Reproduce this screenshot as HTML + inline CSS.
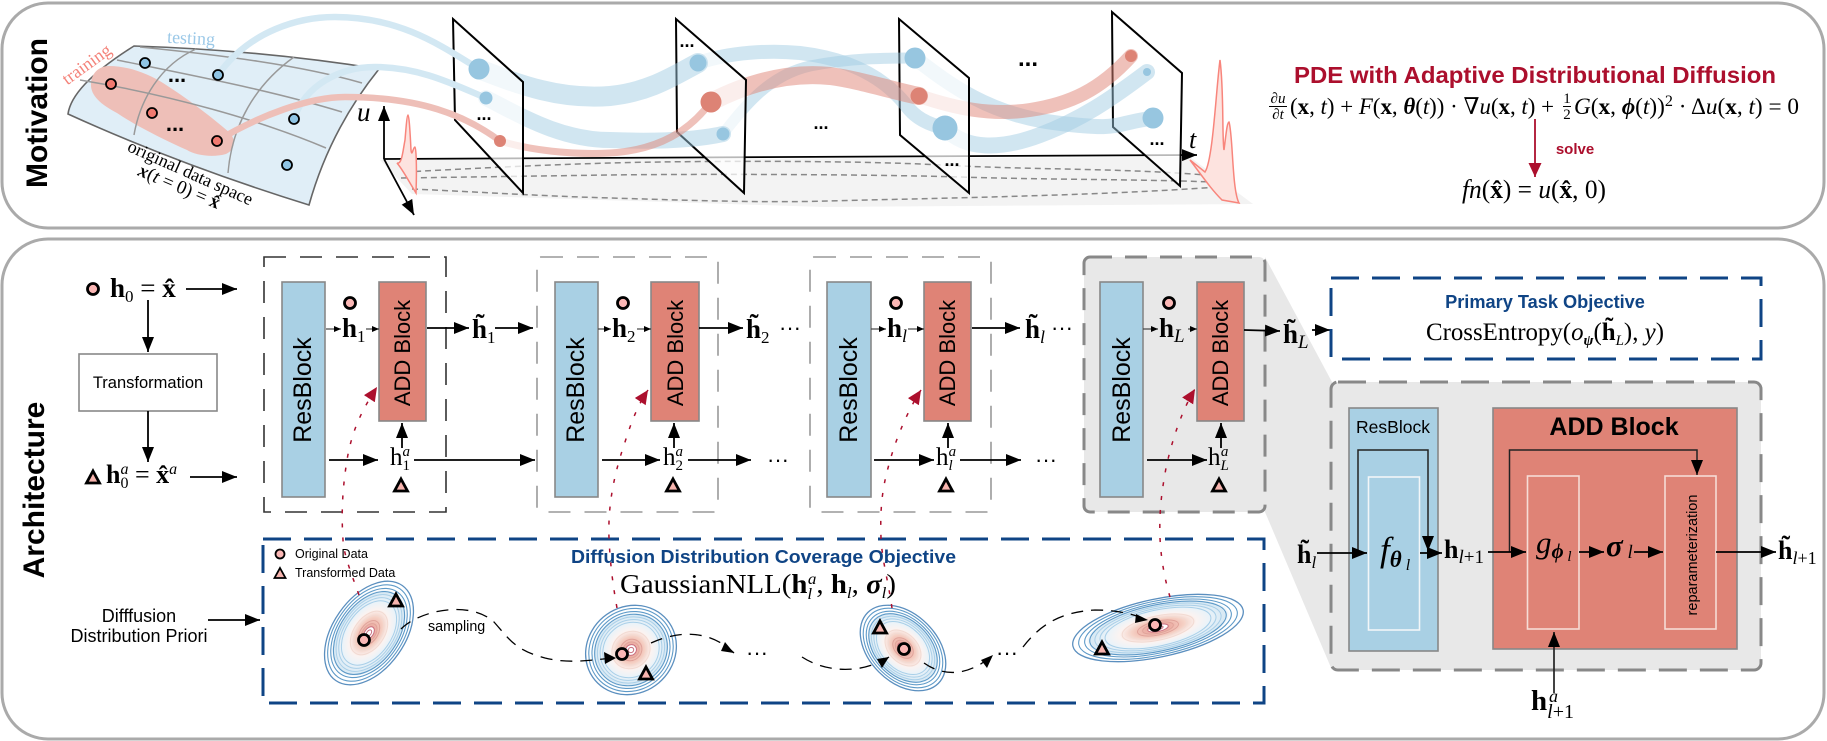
<!DOCTYPE html>
<html><head><meta charset="utf-8"><style>
html,body{margin:0;padding:0;background:#fff}
svg{display:block}
.m{font-family:"Liberation Serif","DejaVu Serif",serif}
.s{font-family:"Liberation Sans",sans-serif}
</style></head><body>
<svg xmlns="http://www.w3.org/2000/svg" width="1827" height="741" viewBox="0 0 1827 741">
<defs>
<marker id="a" markerUnits="userSpaceOnUse" markerWidth="16" markerHeight="13" refX="15" refY="6" orient="auto"><path d="M0 0L15 6L0 12Z" fill="#000"/></marker>
<marker id="b" markerUnits="userSpaceOnUse" markerWidth="8" markerHeight="7" refX="7" refY="3" orient="auto"><path d="M0 0L7 3L0 6Z" fill="#000"/></marker>
<marker id="r" markerUnits="userSpaceOnUse" markerWidth="16" markerHeight="14" refX="14" refY="6.5" orient="auto"><path d="M0 0L14 6.500L0 13Z" fill="#ac0f2d"/></marker>
<g id="c"><circle r="5.500" fill="#fbb7b5" stroke="#000" stroke-width="2.800"/></g>
<g id="t"><path d="M0 -6L6.500 6L-6.500 6Z" fill="#f7b4ae" stroke="#000" stroke-width="2.800"/></g>
<radialGradient id="gg"><stop offset="0" stop-color="#f6e6e6"/><stop offset=".12" stop-color="#eba99f"/><stop offset=".3" stop-color="#f5d0c4"/><stop offset=".45" stop-color="#fbf3f1"/><stop offset=".6" stop-color="#eaf3f9"/><stop offset=".78" stop-color="#d8e9f4"/><stop offset=".84" stop-color="#ffffff"/><stop offset="1" stop-color="#ffffff"/></radialGradient>
<g id="g" fill="none">
<circle r="100" fill="url(#gg)" stroke="#5b8fbf" stroke-width="1.300" vector-effect="non-scaling-stroke"/>
<g stroke="#5e9ac8" stroke-width="1.100"><circle r="93" vector-effect="non-scaling-stroke"/><circle r="86" vector-effect="non-scaling-stroke"/><circle r="80" vector-effect="non-scaling-stroke"/></g>
<g stroke="#a9cfe8" stroke-width="1"><circle r="74" vector-effect="non-scaling-stroke"/><circle r="68" vector-effect="non-scaling-stroke"/><circle r="62" vector-effect="non-scaling-stroke"/></g>
<g stroke="#f2dad2" stroke-width="1"><circle r="42" vector-effect="non-scaling-stroke"/><circle r="34" vector-effect="non-scaling-stroke"/></g>
<g stroke="#e0a39a" stroke-width="1"><circle r="24" vector-effect="non-scaling-stroke"/><circle r="18" vector-effect="non-scaling-stroke"/></g>
<g stroke="#c96f80" stroke-width="1"><circle r="12" fill="#fff" vector-effect="non-scaling-stroke"/><circle r="6" vector-effect="non-scaling-stroke"/></g>
</g>
</defs>

<rect x="2" y="3" width="1822" height="225" rx="46" fill="#fff" stroke="#aaa" stroke-width="3"/>
<rect x="2" y="239" width="1822" height="500" rx="46" fill="#fff" stroke="#aaa" stroke-width="3"/>

<text class="s" transform="translate(47,113) rotate(-90)" text-anchor="middle" font-weight="bold" font-size="30">Motivation</text>
<text class="s" transform="translate(44,490) rotate(-90)" text-anchor="middle" font-weight="bold" font-size="30">Architecture</text>

<!-- floor -->
<polygon points="380,160 1190,157 1253,204 824,207 412,194" fill="#f3f3f3"/>
<g fill="none" stroke="#888" stroke-width="1.500" stroke-dasharray="6 4">
<path d="M405 172C480 168 540 165 610 163S850 160 941 165S1120 168 1205 175"/>
<path d="M401 178C470 177 540 176 610 175S860 174 960 177S1130 179 1213 182"/>
<path d="M412 189C480 192 540 196 610 198S760 203 828 201S1100 196 1217 187"/>
</g>
<!-- axes -->
<g fill="none" stroke="#000" stroke-width="1.800">
<path d="M384 159V106" marker-end="url(#a)"/>
<path d="M384 159L1197 155" marker-end="url(#a)"/>
<path d="M384 159L414 215" marker-end="url(#a)"/>
</g>
<text class="m" x="357" y="121" font-size="27" font-style="italic">u</text>
<text class="m" x="1189" y="148" font-size="26" font-style="italic">t</text>
<!-- distributions -->
<path d="M397 163C402 165 403 150 405 140C406 128 407 115 408 115C409 115 410 130 411 150C412 158 413 147 415 147C416 147 417 165 416 193C408 180 403 170 397 163Z" fill="#fde3df" stroke="#f8857c" stroke-width="1.500"/>
<path d="M1190 160L1205 172C1213 160 1216 90 1220 60C1224 90 1222 140 1224 150C1226 135 1227 122 1229 122C1233 135 1232 190 1239 203L1222 200C1212 190 1205 180 1190 160Z" fill="#fde3df" stroke="#f8857c" stroke-width="1.500"/>

<!-- manifold -->
<path d="M134 46Q260 50 379 69Q330 130 309 205Q180 165 68 114Q72 85 134 46Z" fill="#e0eef7" stroke="#666" stroke-width="1.600"/>
<path d="M91 83C92 72 100 66 109 66C130 66 150 75 163 83C190 100 215 120 230 133C236 140 235 150 226 154C212 158 195 155 187 150C160 138 135 125 117 113C100 104 90 95 91 83Z" fill="#eebfb8"/>
<g fill="none" stroke="#999" stroke-width="1.500">
<path d="M140 47C220 55 300 65 362 83"/>
<path d="M117 60C190 75 270 90 342 112"/>
<path d="M80 80C170 95 260 120 326 148"/>
<path d="M196 49C160 65 140 100 134 135"/>
<path d="M294 57C255 85 232 125 228 173"/>
</g>
<text class="s" x="177" y="82" font-size="22" font-weight="bold" text-anchor="middle">...</text>
<text class="s" x="175" y="131" font-size="22" font-weight="bold" text-anchor="middle">...</text>
<text class="m" transform="translate(90,69) rotate(-36)" text-anchor="middle" font-size="18" fill="#f4837a">training</text>
<text class="m" x="191" y="44" text-anchor="middle" font-size="18" fill="#9cc9e8" transform="rotate(3 191 40)">testing</text>
<text class="m" transform="translate(188,178) rotate(24)" text-anchor="middle" font-size="18">original data space</text>
<text class="m" transform="translate(177,192) rotate(23)" text-anchor="middle" font-size="19"><tspan font-weight="bold" font-style="italic">x</tspan>(<tspan font-style="italic">t</tspan> = 0) = <tspan font-weight="bold">x̂</tspan></text>

<!-- flows, planes : right to left -->
<g fill="none" stroke-linecap="round">
<polygon points="1112,12 1182,73 1180,186 1113,127" fill="#fff" fill-opacity=".72" stroke="#000" stroke-width="2"/>
<path d="M945 128C965 150 1000 150 1040 135S1110 100 1147 72" stroke="#9ecae1" stroke-opacity=".48" stroke-width="16"/>
<path d="M915 58C950 85 990 115 1057 123S1110 124 1153 118" stroke="#9ecae1" stroke-opacity=".48" stroke-width="15"/>
<path d="M919 96C955 108 990 116 1030 110S1100 90 1131 56" stroke="#df8376" stroke-opacity=".5" stroke-width="14"/>
<polygon points="899,19 969,78 969,193 900,135" fill="#fff" fill-opacity=".72" stroke="#000" stroke-width="2"/>
<path d="M698 63C730 52 770 50 800 53C860 60 890 85 906 105C915 118 930 125 945 128" stroke="#9ecae1" stroke-opacity=".48" stroke-width="14"/>
<path d="M723 134C745 105 770 75 810 66C850 58 885 58 915 58" stroke="#9ecae1" stroke-opacity=".48" stroke-width="11"/>
<path d="M711 102C750 82 790 72 830 76C860 80 890 90 919 96" stroke="#df8376" stroke-opacity=".5" stroke-width="18"/>
<polygon points="676,19 746,80 744,193 677,132" fill="#fff" fill-opacity=".72" stroke="#000" stroke-width="2"/>
<path d="M479 69C520 85 560 100 610 96C650 92 675 75 698 63" stroke="#9ecae1" stroke-opacity=".48" stroke-width="20"/>
<path d="M486 98C520 115 560 140 610 140C660 142 695 140 723 134" stroke="#9ecae1" stroke-opacity=".48" stroke-width="16"/>
<path d="M500 141C530 150 570 155 610 153C660 150 690 130 711 102" stroke="#df8376" stroke-opacity=".5" stroke-width="7"/>
<polygon points="453,19 523,82 523,193 455,120" fill="#fff" fill-opacity=".72" stroke="#000" stroke-width="2"/>
<path d="M218 75C250 30 300 17 335 17C400 17 440 45 479 69" stroke="#d3e8f3" stroke-width="6.500"/>
<path d="M294 119C305 85 340 67 375 67C420 67 455 85 486 98" stroke="#d3e8f3" stroke-width="6.500"/>
<path d="M217 141C260 115 310 97 345 97C420 97 465 115 500 141" stroke="#eebfb8" stroke-width="6.500"/>
</g>
<g fill="#97c6e0">
<circle cx="479" cy="69" r="10.500"/><circle cx="486" cy="98" r="6.500"/>
<circle cx="698" cy="63" r="8.500"/><circle cx="723" cy="134" r="6.500"/>
<circle cx="915" cy="58" r="10.500"/><circle cx="945" cy="128" r="12.500"/>
<circle cx="1147" cy="72" r="4"/><circle cx="1153" cy="118" r="10.500"/>
</g>
<g fill="#dd8375">
<circle cx="500" cy="141" r="6"/><circle cx="711" cy="102" r="10.500"/>
<circle cx="919" cy="96" r="8.500"/><circle cx="1131" cy="56" r="6"/>
</g>
<g fill="#8fc4e4" stroke="#000" stroke-width="1.800"><circle cx="145" cy="63" r="5"/><circle cx="218" cy="75" r="5"/><circle cx="294" cy="119" r="5"/><circle cx="287" cy="165" r="5"/></g>
<g fill="#f07a70" stroke="#000" stroke-width="1.800"><circle cx="111" cy="84" r="5"/><circle cx="152" cy="113" r="5"/><circle cx="217" cy="141" r="5"/></g>
<g class="s" font-size="18" font-weight="bold" text-anchor="middle">
<text x="484" y="120">...</text><text x="687" y="47">...</text><text x="821" y="129">...</text><text x="952" y="166">...</text><text x="1028" y="66" font-size="24">...</text><text x="1157" y="145">...</text>
</g>

<!-- PDE -->
<text class="s" x="1294" y="83" font-size="23.500" font-weight="bold" fill="#ac0f2d" textLength="482" lengthAdjust="spacingAndGlyphs">PDE with Adaptive Distributional Diffusion</text>
<g class="m" font-size="15" text-anchor="middle"><text x="1278" y="103"><tspan font-style="italic">∂u</tspan></text><text x="1278" y="119"><tspan font-style="italic">∂t</tspan></text><text x="1567" y="103">1</text><text x="1567" y="119">2</text></g>
<path d="M1269 106.500H1287M1563 106.500H1571" stroke="#000" stroke-width="1"/>
<text class="m" x="1290" y="114" font-size="23" textLength="264" lengthAdjust="spacingAndGlyphs">(<tspan font-weight="bold">x</tspan>, <tspan font-style="italic">t</tspan>) + <tspan font-style="italic">F</tspan>(<tspan font-weight="bold">x</tspan>, <tspan font-weight="bold" font-style="italic">θ</tspan>(<tspan font-style="italic">t</tspan>)) · ∇<tspan font-style="italic">u</tspan>(<tspan font-weight="bold">x</tspan>, <tspan font-style="italic">t</tspan>) +</text>
<text class="m" x="1574" y="114" font-size="23" textLength="225" lengthAdjust="spacingAndGlyphs"><tspan font-style="italic">G</tspan>(<tspan font-weight="bold">x</tspan>, <tspan font-weight="bold" font-style="italic">ϕ</tspan>(<tspan font-style="italic">t</tspan>))<tspan dy="-8" font-size="16">2</tspan><tspan dy="8"> · Δ</tspan><tspan font-style="italic">u</tspan>(<tspan font-weight="bold">x</tspan>, <tspan font-style="italic">t</tspan>) = 0</text>
<path d="M1535 119V177" stroke="#ac0f2d" stroke-width="1.800" fill="none" marker-end="url(#r)"/>
<text class="s" x="1575" y="154" font-size="15" font-weight="bold" fill="#ac0f2d" text-anchor="middle">solve</text>
<text class="m" x="1462" y="198" font-size="26" textLength="144" lengthAdjust="spacingAndGlyphs"><tspan font-style="italic">fn</tspan>(<tspan font-weight="bold">x̂</tspan>) = <tspan font-style="italic">u</tspan>(<tspan font-weight="bold">x̂</tspan>, 0)</text>

<!-- wedge + grey group -->
<polygon points="1265,257 1332,382 1332,670 1265,512" fill="#e8e8e8"/>
<rect x="1084" y="257" width="181" height="255" rx="6" fill="#e8e8e8" stroke="#888" stroke-width="3" stroke-dasharray="22 13"/>
<rect x="1331" y="382" width="430" height="288" rx="7" fill="#e8e8e8" stroke="#888" stroke-width="3" stroke-dasharray="28 13"/>

<!-- groups -->
<rect x="264" y="257" width="182" height="255" fill="none" stroke="#333" stroke-width="1.600" stroke-dasharray="22 14"/>
<rect x="537" y="257" width="181" height="255" rx="4" fill="none" stroke="#999" stroke-width="1.600" stroke-dasharray="22 14"/>
<rect x="810" y="257" width="181" height="255" rx="4" fill="none" stroke="#999" stroke-width="1.600" stroke-dasharray="22 14"/>

<!-- left inputs -->
<use href="#c" x="93" y="289"/>
<text class="m" x="110" y="297" font-size="27"><tspan font-weight="bold">h</tspan><tspan dy="5" font-size="17">0</tspan><tspan dy="-5"> = </tspan><tspan font-weight="bold">x̂</tspan></text>
<use href="#t" x="93" y="477"/>
<text class="m" x="106" y="483" font-size="26"><tspan font-weight="bold">h</tspan><tspan dy="5" font-size="16">0</tspan><tspan dy="-14" dx="-8" font-size="16" font-style="italic">a</tspan><tspan dy="9"> = </tspan><tspan font-weight="bold">x̂</tspan><tspan dy="-9" font-size="16" font-style="italic">a</tspan></text>
<rect x="79" y="354" width="138" height="57" fill="#fff" stroke="#888" stroke-width="1.600"/>
<text class="s" x="148" y="388" font-size="16.500" text-anchor="middle">Transformation</text>
<g fill="none" stroke="#000" stroke-width="1.800" marker-end="url(#a)">
<path d="M186 289H237" marker-end="url(#a)"/>
<path d="M148 300V352" marker-end="url(#a)"/>
<path d="M148 411V462" marker-end="url(#a)"/>
<path d="M190 477H237" marker-end="url(#a)"/>
</g>

<!-- blocks -->
<g fill="#a9d0e4" stroke="#888" stroke-width="1.600">
<rect x="282" y="282" width="43" height="215"/><rect x="555" y="282" width="43" height="215"/><rect x="827" y="282" width="44" height="215"/><rect x="1100" y="282" width="43" height="215"/>
</g>
<g fill="#df8376" stroke="#888" stroke-width="1.600">
<rect x="379" y="282" width="47" height="139"/><rect x="651" y="282" width="48" height="139"/><rect x="924" y="282" width="47" height="139"/><rect x="1197" y="282" width="47" height="139"/>
</g>
<g class="s" font-size="25" text-anchor="middle">
<text transform="translate(311,390) rotate(-90)">ResBlock</text><text transform="translate(584,390) rotate(-90)">ResBlock</text><text transform="translate(857,390) rotate(-90)">ResBlock</text><text transform="translate(1130,390) rotate(-90)">ResBlock</text>
</g>
<g class="s" font-size="22" text-anchor="middle">
<text transform="translate(410,353) rotate(-90)">ADD Block</text><text transform="translate(683,353) rotate(-90)">ADD Block</text><text transform="translate(955,353) rotate(-90)">ADD Block</text><text transform="translate(1228,353) rotate(-90)">ADD Block</text>
</g>

<!-- markers -->
<use href="#c" x="350" y="303"/><use href="#c" x="623" y="303"/><use href="#c" x="896" y="303"/><use href="#c" x="1169" y="303"/>
<use href="#t" x="401" y="485"/><use href="#t" x="673" y="485"/><use href="#t" x="946" y="485"/><use href="#t" x="1219" y="485"/>

<!-- thin arrows -->
<g fill="none" stroke="#444" stroke-width="1.200">
<path d="M326 329H341" marker-end="url(#b)"/><path d="M366 329H379" marker-end="url(#b)"/>
<path d="M598 329H611" marker-end="url(#b)"/><path d="M637 329H651" marker-end="url(#b)"/>
<path d="M871 329H886" marker-end="url(#b)"/><path d="M908 329H924" marker-end="url(#b)"/>
<path d="M1143 329H1158" marker-end="url(#b)"/><path d="M1188 329H1197" marker-end="url(#b)"/>
</g>
<g fill="none" stroke="#000" stroke-width="1.800">
<path d="M427 328H469" marker-end="url(#a)"/><path d="M495 328H533" marker-end="url(#a)"/>
<path d="M699 328H743" marker-end="url(#a)"/>
<path d="M972 328H1020" marker-end="url(#a)"/>
<path d="M1244 330L1280 331" marker-end="url(#a)"/><path d="M1312 330H1330" marker-end="url(#a)"/>
<path d="M329 460H378" marker-end="url(#a)"/><path d="M414 460H535" marker-end="url(#a)"/>
<path d="M602 460H660" marker-end="url(#a)"/><path d="M688 460H751" marker-end="url(#a)"/>
<path d="M874 460H934" marker-end="url(#a)"/><path d="M960 460H1021" marker-end="url(#a)"/>
<path d="M1147 460H1207" marker-end="url(#a)"/>
<path d="M402 448V423" marker-end="url(#a)"/><path d="M674 448V423" marker-end="url(#a)"/><path d="M948 448V423" marker-end="url(#a)"/><path d="M1221 448V423" marker-end="url(#a)"/>
</g>

<!-- labels h -->
<g class="m" font-size="27">
<text x="342" y="337"><tspan font-weight="bold">h</tspan><tspan dy="5" font-size="17">1</tspan></text>
<text x="612" y="337"><tspan font-weight="bold">h</tspan><tspan dy="5" font-size="17">2</tspan></text>
<text x="887" y="337"><tspan font-weight="bold">h</tspan><tspan dy="5" font-size="18" font-style="italic">l</tspan></text>
<text x="1159" y="337"><tspan font-weight="bold">h</tspan><tspan dy="5" font-size="19" font-style="italic">L</tspan></text>
<text x="472" y="338"><tspan font-weight="bold">h̃</tspan><tspan dy="5" font-size="17">1</tspan></text>
<text x="746" y="338"><tspan font-weight="bold">h̃</tspan><tspan dy="5" font-size="17">2</tspan></text>
<text x="1025" y="338"><tspan font-weight="bold">h̃</tspan><tspan dy="5" font-size="18" font-style="italic">l</tspan></text>
<text x="1283" y="343"><tspan font-weight="bold">h̃</tspan><tspan dy="5" font-size="19" font-style="italic">L</tspan></text>
<text x="390" y="465" font-size="25"><tspan>h</tspan><tspan dy="5" font-size="15">1</tspan><tspan dy="-14" dx="-7.500" font-size="15" font-style="italic">a</tspan></text>
<text x="663" y="465" font-size="25"><tspan>h</tspan><tspan dy="5" font-size="15">2</tspan><tspan dy="-14" dx="-7.500" font-size="15" font-style="italic">a</tspan></text>
<text x="936" y="465" font-size="25"><tspan>h</tspan><tspan dy="5" font-size="15" font-style="italic">l</tspan><tspan dy="-14" dx="-4" font-size="15" font-style="italic">a</tspan></text>
<text x="1208" y="465" font-size="25"><tspan>h</tspan><tspan dy="5" font-size="15" font-style="italic">L</tspan><tspan dy="-14" dx="-8" font-size="15" font-style="italic">a</tspan></text>
</g>
<g class="s" font-size="22" text-anchor="middle">
<text x="790" y="335">···</text><text x="1062" y="335">···</text><text x="778" y="467">···</text><text x="1046" y="467">···</text>
</g>

<!-- primary box -->
<rect x="1331" y="278" width="430" height="81" fill="none" stroke="#0f4485" stroke-width="3" stroke-dasharray="28 13"/>
<text class="s" x="1545" y="308" font-size="18.200" font-weight="bold" fill="#0f4485" text-anchor="middle">Primary Task Objective</text>
<text class="m" x="1426" y="340" font-size="25" textLength="238" lengthAdjust="spacingAndGlyphs">CrossEntropy(<tspan font-style="italic">o</tspan><tspan dy="5" font-size="15" font-weight="bold" font-style="italic">ψ</tspan><tspan dy="-5">(</tspan><tspan font-weight="bold">h̃</tspan><tspan dy="5" font-size="15" font-style="italic">L</tspan><tspan dy="-5">), </tspan><tspan font-style="italic">y</tspan>)</text>

<!-- expanded ResBlock -->
<rect x="1349" y="408" width="89" height="243" fill="#a9d0e4" stroke="#888" stroke-width="1.600"/>
<text class="s" x="1393" y="433" font-size="17.500" text-anchor="middle">ResBlock</text>
<rect x="1368.500" y="477" width="51" height="153" fill="none" stroke="#f2f6f8" stroke-width="1.600"/>
<path d="M1358 553V450H1428V551" fill="none" stroke="#222" stroke-width="1.500" marker-end="url(#a)"/>
<!-- expanded ADD -->
<rect x="1493" y="408" width="244" height="241" fill="#df8376" stroke="#888" stroke-width="1.600"/>
<text class="s" x="1614" y="435" font-size="25" font-weight="bold" text-anchor="middle">ADD Block</text>
<rect x="1527.500" y="476" width="51.500" height="153" fill="none" stroke="#f6dcd6" stroke-width="1.600"/>
<rect x="1665" y="476" width="51" height="153" fill="none" stroke="#f6dcd6" stroke-width="1.600"/>
<path d="M1509.500 552V450H1697V475" fill="none" stroke="#222" stroke-width="1.500" marker-end="url(#a)"/>
<text class="s" transform="translate(1697,555) rotate(-90)" font-size="14.500" text-anchor="middle">reparameterization</text>
<g fill="none" stroke="#000" stroke-width="1.700">
<path d="M1317 553H1367" marker-end="url(#a)"/>
<path d="M1420 553H1442" marker-end="url(#a)"/>
<path d="M1488 552H1526" marker-end="url(#a)"/>
<path d="M1579 552H1604" marker-end="url(#a)"/>
<path d="M1634 552H1663" marker-end="url(#a)"/>
<path d="M1716 552H1776" marker-end="url(#a)"/>
<path d="M1554 693V632" stroke="#222" marker-end="url(#a)"/>
</g>
<g class="m">
<text x="1297" y="563" font-size="26"><tspan font-weight="bold">h̃</tspan><tspan dy="5" font-size="17" font-style="italic">l</tspan></text>
<text x="1380" y="561" font-size="35" font-style="italic">f<tspan dy="6" font-size="23" font-weight="bold">θ</tspan><tspan dy="3" font-size="16" font-weight="normal"> l</tspan></text>
<text x="1444" y="558" font-size="26"><tspan font-weight="bold">h</tspan><tspan dy="5" font-size="19"><tspan font-style="italic">l</tspan>+1</tspan></text>
<text x="1536" y="553" font-size="31" font-style="italic">g<tspan dy="5" font-size="21" font-weight="bold">ϕ</tspan><tspan dy="3" font-size="15" font-weight="normal"> l</tspan></text>
<text x="1606" y="556" font-size="31" font-weight="bold" font-style="italic">σ<tspan dy="2" font-size="19" font-weight="normal"> l</tspan></text>
<text x="1778" y="559" font-size="26"><tspan font-weight="bold">h̃</tspan><tspan dy="5" font-size="18"><tspan font-style="italic">l</tspan>+1</tspan></text>
<text x="1531" y="710" font-size="29"><tspan font-weight="bold">h</tspan><tspan dy="8" font-size="20"><tspan font-style="italic">l</tspan>+1</tspan></text>
<text x="1549" y="702" font-size="18" font-style="italic">a</text>
</g>

<!-- coverage box -->
<rect x="263" y="539" width="1001" height="164" fill="#fff" stroke="#0f4485" stroke-width="3" stroke-dasharray="28 13"/>
<use href="#g" transform="translate(369,633) rotate(-55) scale(.58,.36)"/>
<use href="#g" transform="translate(631,650) rotate(-40) scale(.47,.43)"/>
<use href="#g" transform="translate(903,648) rotate(45) scale(.5,.34)"/>
<use href="#g" transform="translate(1158,628) rotate(-12) scale(.87,.29)"/>
<use href="#c" x="364" y="640"/><use href="#t" x="396" y="600"/>
<use href="#c" x="622" y="654"/><use href="#t" x="646" y="673"/>
<use href="#c" x="904" y="649"/><use href="#t" x="880" y="627"/>
<use href="#c" x="1155" y="625"/><use href="#t" x="1102" y="648"/>
<circle cx="280" cy="554" r="4.500" fill="#fbb7b5" stroke="#000" stroke-width="1.800"/>
<path d="M280 568L285.500 578H274.500Z" fill="#f7b4ae" stroke="#000" stroke-width="1.800"/>
<g class="s" font-size="12.500"><text x="295" y="558">Original Data</text><text x="295" y="577">Transformed Data</text></g>
<text class="s" x="571" y="563" font-size="18.500" font-weight="bold" fill="#0f4485" textLength="385" lengthAdjust="spacingAndGlyphs">Diffusion Distribution Coverage Objective</text>
<text class="m" x="620" y="593" font-size="27" textLength="276" lengthAdjust="spacingAndGlyphs">GaussianNLL(<tspan font-weight="bold">h</tspan><tspan dy="6" font-size="16" font-style="italic">l</tspan><tspan dy="-15" dx="-4" font-size="16" font-style="italic">a</tspan><tspan dy="9">, </tspan><tspan font-weight="bold">h</tspan><tspan dy="5" font-size="16" font-style="italic">l</tspan><tspan dy="-5">, </tspan><tspan font-weight="bold" font-style="italic">σ</tspan><tspan dy="5" font-size="16" font-style="italic">l</tspan><tspan dy="-5">)</tspan></text>
<text class="s" x="139" y="622" font-size="18" text-anchor="middle">Difffusion</text>
<text class="s" x="139" y="642" font-size="18" text-anchor="middle">Distribution Priori</text>
<path d="M208 620H260" fill="none" stroke="#000" stroke-width="1.800" marker-end="url(#a)"/>
<text class="s" x="428" y="631" font-size="14.300">sampling</text>
<g fill="none" stroke="#000" stroke-width="1.300" stroke-dasharray="12 8">
<path d="M401 629C420 610 470 600 494 622C510 640 515 650 545 658C570 664 590 660 614 658"/>
<path d="M651 643C680 630 710 630 734 653"/>
<path d="M802 657C825 672 860 675 889 657"/>
<path d="M924 663C945 678 970 675 993 655"/>
<path d="M1023 647C1040 625 1060 612 1095 610C1115 610 1130 613 1148 620"/>
</g>
<g fill="#000">
<path d="M616 658L604 652L605 664Z"/><path d="M734 653L725 642L721 651Z"/><path d="M889 657L877 659L882 668Z"/><path d="M993 655L981 660L987 668Z"/><path d="M1148 620L1136 614L1135 623Z"/>
</g>
<g class="s" font-size="22" text-anchor="middle"><text x="757" y="660">···</text><text x="1007" y="660">···</text></g>

<!-- red dotted -->
<g fill="none" stroke="#ac0f2d" stroke-width="1.500" stroke-dasharray="4 10">
<path d="M359 595C350 570 344 555 343 540C341 510 343 485 347 460C352 430 362 410 377 387" marker-end="url(#r)"/>
<path d="M617 608C612 580 610 560 609 538C608 510 612 480 625 442C632 420 638 405 648 390" marker-end="url(#r)"/>
<path d="M892 608C888 580 882 560 881 538C880 510 882 490 888 468C895 440 908 410 921 390" marker-end="url(#r)"/>
<path d="M1170 597C1165 580 1161 560 1160 538C1159 510 1162 490 1166 468C1172 440 1182 410 1195 389" marker-end="url(#r)"/>
</g>
</svg>
</body></html>
